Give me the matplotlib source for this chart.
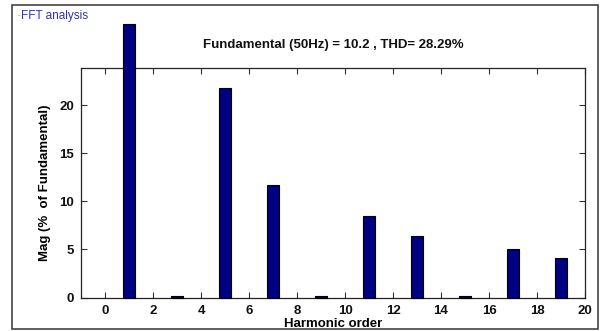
import matplotlib
matplotlib.use("Agg")
import matplotlib.pyplot as plt
from matplotlib.patches import Rectangle

plt.rcParams["font.family"] = ["Liberation Sans", "DejaVu Sans"]

# harmonic order and magnitude (% of fundamental); fundamental bar runs off the axes
HARMONICS = [1, 3, 5, 7, 9, 11, 13, 15, 17, 19]
MAGNITUDES = [28.4, 0.12, 21.8, 11.7, 0.12, 8.5, 6.4, 0.12, 5.0, 4.1]
XTICKS = list(range(0, 21, 2))
YTICKS = [0, 5, 10, 15, 20]

TITLE = "Fundamental (50Hz) = 10.2 , THD= 28.29%"

fig = plt.figure(figsize=(6.05, 3.31), dpi=100)
ax = fig.add_axes([0.134, 0.101, 0.833, 0.695])

bars = ax.bar(HARMONICS, MAGNITUDES, width=0.5, color="#000080",
              edgecolor="#000000", linewidth=0.8, zorder=3)
for b in bars:
    b.set_clip_on(False)

ax.set_xlim(-1, 20)
ax.set_ylim(0, 23.9)
ax.set_xticks(XTICKS)
ax.set_yticks(YTICKS)
ax.tick_params(direction="in", top=True, right=True, length=4, width=0.8,
               colors="#333333", labelcolor="#111111", labelsize=9.5, pad=5)
for lbl in ax.get_xticklabels() + ax.get_yticklabels():
    lbl.set_fontweight("bold")
for sp in ax.spines.values():
    sp.set_color("#222222")
    sp.set_linewidth(0.9)

ax.set_title(TITLE, fontsize=9.5, fontweight="bold", pad=14, color="#111111")
ax.set_xlabel("Harmonic order", fontsize=9.5, fontweight="bold", labelpad=1)
ax.set_ylabel("Mag (%  of Fundamental)", fontsize=9.5, fontweight="bold",
              labelpad=6)

# outer panel frame and panel caption
fig.patches.append(Rectangle((12 / 605, 2 / 331), 586 / 605, 324 / 331,
                             transform=fig.transFigure, fill=False,
                             edgecolor="#444444", linewidth=1.2))
fig.text(18 / 605, 1 - 16 / 331, "-", fontsize=6, color="#999999",
         va="center")
fig.text(21 / 605, 1 - 16 / 331, "FFT analysis", fontsize=8.5,
         color="#3030c0", va="center")

fig.savefig("out.png", dpi=100)
